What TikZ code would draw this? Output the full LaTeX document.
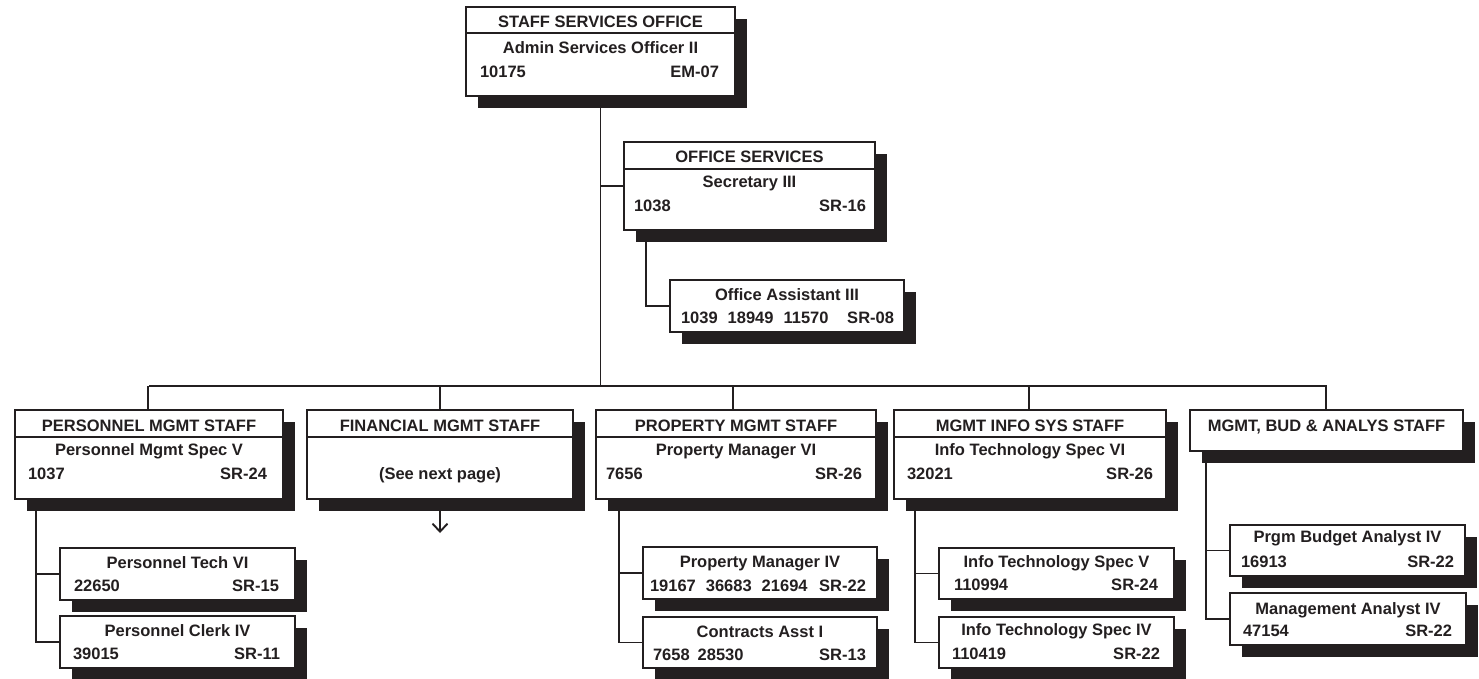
\documentclass[tikz,border=0pt]{standalone}
\usepackage{fontspec}
\setmainfont{Liberation Sans}
\usetikzlibrary{shadows,arrows.meta}
\definecolor{ink}{HTML}{231F20}
\tikzset{
  box/.style={draw=ink, line width=1.8pt, fill=white, inner sep=0pt, outer sep=0pt, rectangle,
    drop shadow={shadow xshift=11.5pt, shadow yshift=-11.5pt, fill=ink, opacity=1}},
  txt/.style={inner sep=0pt, outer sep=0pt, text=ink, font=\fontsize{16.5}{18}\selectfont\bfseries},
  link/.style={draw=ink, line width=1.9pt},
  sepline/.style={draw=ink, line width=2.2pt},
}
\newcommand\mybox[5]{\node[box, minimum width={#4-#2}, minimum height={#5-#3}] (#1) at ({(#2+#4)/2},{(#3+#5)/2}) {};}
\newcommand\ctext[4]{\node[txt, anchor=base] (#1) at (#2,#3) {#4};}
\newcommand\ltext[4]{\node[txt, anchor=base west] (#1) at (#2,#3) {#4};}
\newcommand\rtext[4]{\node[txt, anchor=base east] (#1) at (#2,#3) {#4};}
\newcommand\sepat[2]{\draw[sepline] (#1.west |- 0,#2) -- (#1.east |- 0,#2);}
\begin{document}
\begin{tikzpicture}[x=1pt,y=-1pt]
\useasboundingbox (0,0) rectangle (1479,678);
\coordinate (busL) at (148,386);
\coordinate (osv) at (646,230);
\coordinate (pv) at (36,499);
\coordinate (prv) at (619,498);
\coordinate (mv) at (915,499);
\coordinate (bv) at (1206,451);
\coordinate (finarr) at (440,533);

% top
\mybox{top}{466}{7}{735}{96}
\sepat{top}{33}
\ctext{topT}{600.5}{27.5}{STAFF SERVICES OFFICE}
\ctext{topR}{600.5}{53.5}{Admin Services Officer II}
\ltext{topL}{480}{77}{10175}
\rtext{topG}{719}{77}{EM-07}
\draw[link] (top.south) -- (top.south |- busL);

% office services
\mybox{os}{624}{142}{875}{230}
\sepat{os}{169}
\ctext{osT}{749.5}{162.5}{OFFICE SERVICES}
\ctext{osR}{749.5}{187.5}{Secretary III}
\ltext{osL}{634}{211.5}{1038}
\rtext{osG}{866}{211.5}{SR-16}
\draw[link] (os.west) -- (os.west -| top.south);

% office assistant
\mybox{oa}{670}{280}{904}{332}
\ctext{oaR}{787}{300}{Office Assistant III}
\ltext{oaL}{681}{323.3}{1039\hspace{10pt}18949\hspace{10pt}11570}
\rtext{oaG}{894}{323.3}{SR-08}
\draw[link] (osv) |- (oa.west);

% bottom row boxes
\mybox{pers}{15}{410}{283}{499}
\mybox{fin}{307}{410}{573}{499}
\mybox{prop}{596}{410}{876}{499}
\mybox{mis}{894}{410}{1166}{499}
\mybox{mba}{1190}{410}{1463}{451}
\draw[link] (pers.north |- busL) -- (mba.north |- busL);
\foreach \b/\x in {pers/148,fin/440,prop/733,mis/1029,mba/1326}
  \draw[link] (\b.north -| \x,0) -- (\x,386);

\sepat{pers}{437}
\sepat{fin}{437}
\sepat{prop}{437}
\sepat{mis}{437}

\ctext{persT}{149}{431.5}{PERSONNEL MGMT STAFF}
\ctext{persR}{149}{455.7}{Personnel Mgmt Spec V}
\ltext{persL}{28}{479}{1037}
\rtext{persG}{267}{479}{SR-24}

\ctext{finT}{440}{431.5}{FINANCIAL MGMT STAFF}
\ctext{finR}{440}{479}{(See next page)}

\ctext{propT}{736}{431.5}{PROPERTY MGMT STAFF}
\ctext{propR}{736}{455.7}{Property Manager VI}
\ltext{propL}{606}{479}{7656}
\rtext{propG}{862}{479}{SR-26}

\ctext{misT}{1030}{431.5}{MGMT INFO SYS STAFF}
\ctext{misR}{1030}{455.7}{Info Technology Spec VI}
\ltext{misL}{907}{479}{32021}
\rtext{misG}{1153}{479}{SR-26}

\ctext{mbaT}{1326.5}{431}{MGMT, BUD \& ANALYS STAFF}

% financial arrow
\draw[link,-{Straight Barb[length=8pt,width=15pt,line width=1.9pt]}] (fin.south) -- (finarr);

% personnel subs
\mybox{ptech}{60}{548}{295}{600}
\ctext{ptechR}{177.5}{568.3}{Personnel Tech VI}
\ltext{ptechL}{74}{591}{22650}
\rtext{ptechG}{279}{591}{SR-15}
\mybox{pclerk}{60}{616}{295}{668}
\ctext{pclerkR}{177.5}{636.7}{Personnel Clerk IV}
\ltext{pclerkL}{73}{659.5}{39015}
\rtext{pclerkG}{280}{659.5}{SR-11}
\draw[link] (pv) |- (pclerk.west);
\draw[link] (pv |- ptech.west) -- (ptech.west);

% property subs
\mybox{pm}{643}{547}{877}{599}
\ctext{pmR}{760}{567.5}{Property Manager IV}
\ltext{pmL}{650}{591}{19167\hspace{10pt}36683\hspace{10pt}21694}
\rtext{pmG}{866}{591}{SR-22}
\mybox{ca}{643}{617}{877}{668}
\ctext{caR}{760}{637.5}{Contracts Asst I}
\ltext{caL}{653}{660}{7658\hspace{8pt}28530}
\rtext{caG}{866}{660}{SR-13}
\draw[link] (prv) |- (ca.west);
\draw[link] (prv |- pm.west) -- (pm.west);

% MIS subs
\mybox{itv}{939}{548}{1174}{599}
\ctext{itvR}{1056.5}{567.3}{Info Technology Spec V}
\ltext{itvL}{954}{590.7}{110994}
\rtext{itvG}{1158}{590.7}{SR-24}
\mybox{itiv}{939}{617}{1174}{668}
\ctext{itivR}{1056.5}{635.7}{Info Technology Spec IV}
\ltext{itivL}{952}{659.3}{110419}
\rtext{itivG}{1160}{659.3}{SR-22}
\draw[link] (mv) |- (itiv.west);
\draw[link] (mv |- itv.west) -- (itv.west);

% MBA subs
\mybox{pba}{1230}{525}{1465}{576}
\ctext{pbaR}{1347.5}{542.7}{Prgm Budget Analyst IV}
\ltext{pbaL}{1241}{567.3}{16913}
\rtext{pbaG}{1454}{567.3}{SR-22}
\mybox{ma}{1230}{593}{1466}{645}
\ctext{maR}{1348}{614}{Management Analyst IV}
\ltext{maL}{1243}{636.7}{47154}
\rtext{maG}{1452}{636.7}{SR-22}
\draw[link] (bv) |- (ma.west);
\draw[link] (bv |- pba.west) -- (pba.west);
\end{tikzpicture}
\end{document}
